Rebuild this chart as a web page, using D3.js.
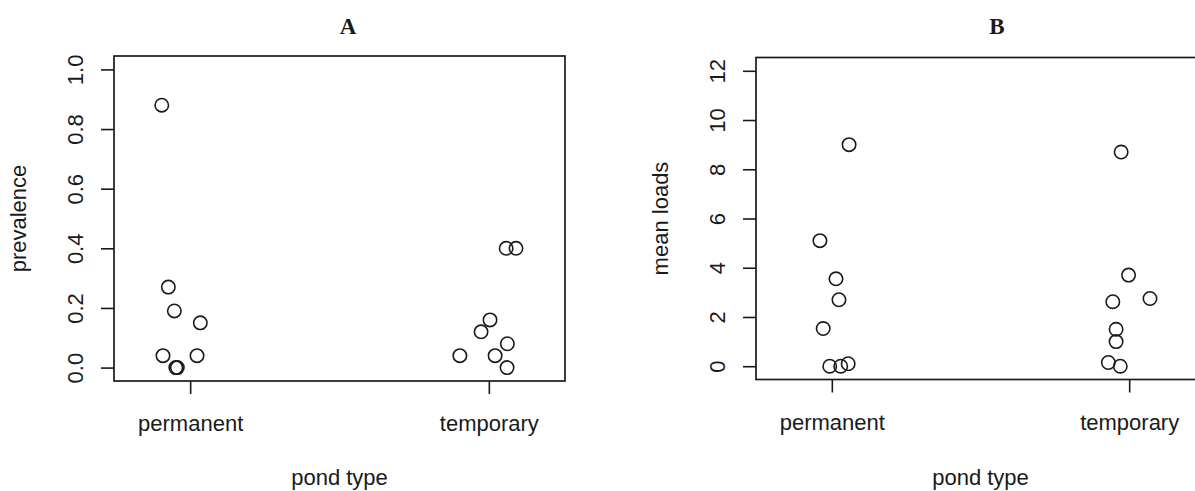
<!DOCTYPE html>
<html>
<head>
<meta charset="utf-8">
<script src="https://cdn.jsdelivr.net/npm/d3@7"></script>
<style>
  html, body { margin: 0; padding: 0; background: #fff; }
  svg { display: block; }
  text { font-family: "Liberation Sans", Arial, Helvetica, sans-serif; fill: #1a1a1a; }
  .title { font-family: "Liberation Serif", "Times New Roman", serif; font-weight: bold; }
</style>
</head>
<body>
<svg id="chart" width="1195" height="491"></svg>
<script>
// ---------------- data ----------------
const categories = ["permanent", "temporary"];

// Panel A: prevalence
const prevalencePermanent = [0.88, 0.27, 0.19, 0.15, 0.04, 0.04, 0.0, 0.0];
const prevalencePermanentJitter = [-0.095, -0.073, -0.053, 0.034, -0.091, 0.023, -0.048, -0.043];
const prevalenceTemporary = [0.40, 0.40, 0.16, 0.12, 0.08, 0.04, 0.04, 0.0];
const prevalenceTemporaryJitter = [0.058, 0.091, 0.004, -0.026, 0.062, -0.097, 0.021, 0.061];
const prevalenceTicks = [0, 0.2, 0.4, 0.6, 0.8, 1.0];
const prevalenceTickLabels = ["0.0", "0.2", "0.4", "0.6", "0.8", "1.0"];

// Panel B: mean loads
const loadsPermanent = [9.0, 5.1, 3.55, 2.7, 1.53, 0.0, 0.0, 0.1];
const loadsPermanentJitter = [0.058, -0.040, 0.014, 0.024, -0.029, -0.007, 0.030, 0.055];
const loadsTemporary = [8.7, 3.7, 2.62, 2.75, 1.5, 1.0, 0.15, 0.0];
const loadsTemporaryJitter = [-0.027, -0.002, -0.055, 0.070, -0.044, -0.044, -0.070, -0.030];
const loadsTicks = [0, 2, 4, 6, 8, 10, 12];
const loadsTickLabels = ["0", "2", "4", "6", "8", "10", "12"];

const panelTitles = ["A", "B"];
const yLabels = ["prevalence", "mean loads"];
const xLabel = "pond type";

// ---------------- layout ----------------
const svg = d3.select("#chart");
const ink = "#1a1a1a";
const textInk = "#262626";
const fontSize = 22;

const panels = [
  {
    title: panelTitles[0], titleX: 348, yLabel: yLabels[0],
    left: 114, right: 565, top: 56, bottom: 381,
    yMax: 1.0, ticks: prevalenceTicks, tickLabels: prevalenceTickLabels,
    series: [
      { cat: 1, values: prevalencePermanent, jitter: prevalencePermanentJitter },
      { cat: 2, values: prevalenceTemporary, jitter: prevalenceTemporaryJitter }
    ]
  },
  {
    title: panelTitles[1], titleX: 997, yLabel: yLabels[1],
    left: 756, right: 1205, top: 57.5, bottom: 379.5,
    yMax: 12, ticks: loadsTicks, tickLabels: loadsTickLabels,
    series: [
      { cat: 1, values: loadsPermanent, jitter: loadsPermanentJitter },
      { cat: 2, values: loadsTemporary, jitter: loadsTemporaryJitter }
    ]
  }
];

panels.forEach(p => {
  const pad = p.yMax * 0.045;
  const x = d3.scaleLinear().domain([0.745, 2.255]).range([p.left, p.right]);
  const y = d3.scaleLinear().domain([-pad, p.yMax + pad]).range([p.bottom, p.top]);
  const g = svg.append("g");

  // title
  g.append("text").attr("class", "title")
    .attr("x", p.titleX).attr("y", 34)
    .attr("text-anchor", "middle")
    .attr("font-size", 23)
    .attr("fill", "#111")
    .text(p.title);

  // y axis
  const yAxis = g.append("g")
    .attr("transform", `translate(${p.left},0)`)
    .call(d3.axisLeft(y).tickValues(p.ticks).tickSize(13)
      .tickFormat((d, i) => p.tickLabels[i]));
  yAxis.select(".domain").remove();
  yAxis.selectAll(".tick line").attr("stroke", ink).attr("stroke-width", 1.6);
  yAxis.selectAll(".tick text")
    .attr("x", null).attr("dy", null)
    .attr("transform", "translate(-31,0) rotate(-90)")
    .attr("text-anchor", "middle")
    .attr("font-size", fontSize)
    .attr("font-family", '"Liberation Sans", Arial, sans-serif')
    .attr("fill", textInk);

  // x axis
  const xAxis = g.append("g")
    .attr("transform", `translate(0,${p.bottom})`)
    .call(d3.axisBottom(x).tickValues([1, 2]).tickSize(13)
      .tickFormat((d, i) => categories[i]));
  xAxis.select(".domain").remove();
  xAxis.selectAll(".tick line").attr("stroke", ink).attr("stroke-width", 1.6);
  xAxis.selectAll(".tick text")
    .attr("y", 50).attr("dy", null)
    .attr("font-size", fontSize)
    .attr("font-family", '"Liberation Sans", Arial, sans-serif')
    .attr("fill", textInk);

  // box
  g.append("rect")
    .attr("x", p.left).attr("y", p.top)
    .attr("width", p.right - p.left).attr("height", p.bottom - p.top)
    .attr("fill", "none").attr("stroke", ink).attr("stroke-width", 1.7);

  // axis labels
  g.append("text")
    .attr("transform", `translate(${p.left - 88},${(p.top + p.bottom) / 2}) rotate(-90)`)
    .attr("text-anchor", "middle")
    .attr("font-size", fontSize)
    .attr("fill", textInk)
    .text(p.yLabel);
  g.append("text")
    .attr("x", (p.left + p.right) / 2).attr("y", 485)
    .attr("text-anchor", "middle")
    .attr("font-size", fontSize)
    .attr("fill", textInk)
    .text(xLabel);

  // points
  p.series.forEach(s => {
    g.append("g").selectAll("circle")
      .data(s.values.map((v, i) => ({ v, j: s.jitter[i] })))
      .join("circle")
      .attr("cx", d => x(s.cat + d.j))
      .attr("cy", d => y(d.v))
      .attr("r", 6.7)
      .attr("fill", "none")
      .attr("stroke", ink)
      .attr("stroke-width", 1.6);
  });
});
</script>
</body>
</html>
